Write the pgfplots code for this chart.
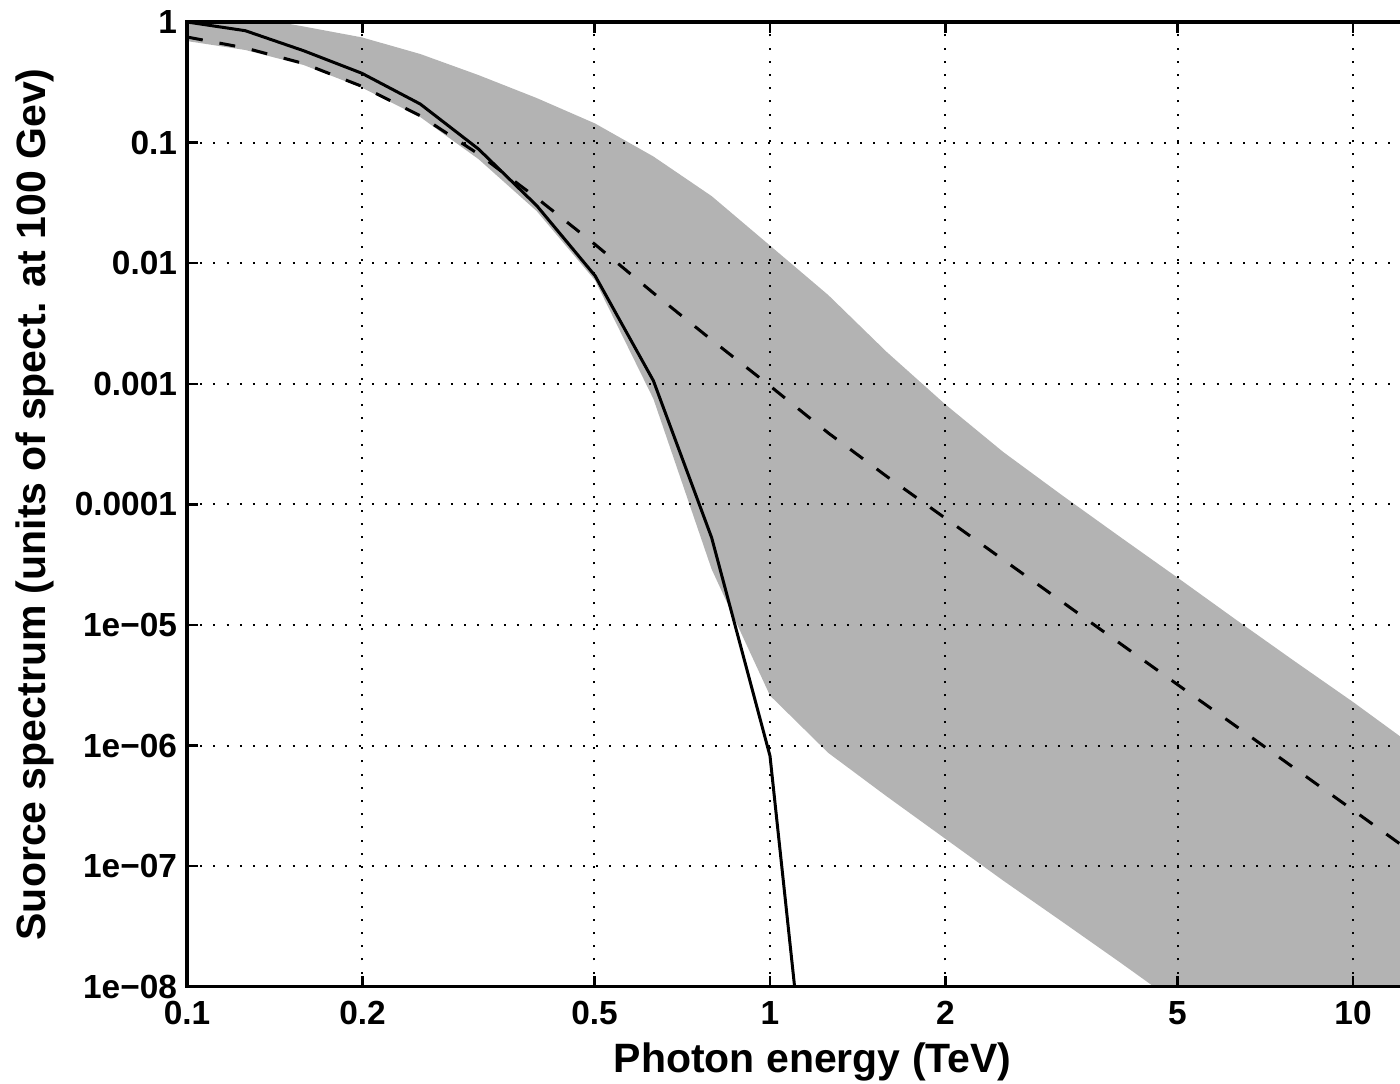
\documentclass[border=0pt]{standalone}
\usepackage{fontspec}
\setmainfont{Liberation Sans}
\usepackage{pgfplots}
\usepackage{pgfplotstable}
\pgfplotsset{compat=1.18}
\definecolor{bandgray}{RGB}{179,179,179}

\pgfplotstableread{
x y
0.1 1.0
0.1259 0.847
0.1585 0.578
0.1995 0.376
0.2512 0.209
0.3162 0.0885
0.3981 0.030
0.5012 0.00787
0.6310 0.00106
0.7943 5.3e-5
1.0 8.2e-7
1.2589 2.4e-11
}\solidtab

\pgfplotstableread{
x y
0.1 0.751
0.1259 0.609
0.1585 0.453
0.1995 0.293
0.2512 0.167
0.3162 0.0804
0.3981 0.0347
0.5012 0.0143
0.6310 0.00566
0.7943 0.00231
1.0 9.6e-4
1.2589 3.91e-4
1.5849 1.71e-4
1.9953 7.73e-5
2.5119 3.48e-5
3.1623 1.57e-5
3.9811 7.06e-6
5.0119 3.18e-6
6.3096 1.44e-6
7.9433 6.47e-7
10.0 2.92e-7
12.589 1.31e-7
15.849 5.9e-8
}\dashtab

\pgfplotstableread{
x y
0.1 1.3
0.1259 1.12
0.1585 0.918
0.1995 0.746
0.2512 0.543
0.3162 0.363
0.3981 0.234
0.5012 0.144
0.6310 0.0767
0.7943 0.036
1.0 0.014
1.2589 0.00544
1.5849 1.84e-3
1.9953 6.8e-4
2.5119 2.72e-4
3.1623 1.2e-4
3.9811 5.4e-5
5.0119 2.45e-5
6.3096 1.1e-5
7.9433 5.0e-6
10.0 2.3e-6
12.589 1.02e-6
15.849 4.6e-7
15.849 1.2e-10
12.589 2.7e-10
10.0 6.1e-10
7.9433 1.38e-9
6.3096 3.1e-9
5.0119 7.2e-9
3.9811 1.6e-8
3.1623 3.5e-8
2.5119 7.6e-8
1.9953 1.7e-7
1.5849 3.8e-7
1.2589 8.7e-7
1.0 2.6e-6
0.7943 2.9e-5
0.6310 7.5e-4
0.5012 7.2e-3
0.3981 0.027
0.3162 0.073
0.2512 0.163
0.1995 0.286
0.1585 0.44
0.1259 0.586
0.1 0.695
}\bandtab

\begin{document}
\begin{tikzpicture}
\begin{axis}[
  scale only axis,
  width=625.6bp, height=482.4bp,
  xmode=log, ymode=log,
  xmin=0.1, xmax=14,
  ymin=1e-8, ymax=1,
  xtick={0.1,0.2,0.5,1,2,5,10},
  xticklabels={0.1,0.2,0.5,1,2,5,10},
  ytick={1e-8,1e-7,1e-6,1e-5,1e-4,1e-3,1e-2,1e-1,1},
  yticklabels={1e\textminus08,1e\textminus07,1e\textminus06,1e\textminus05,0.0001,0.001,0.01,0.1,1},
  xminorticks=false, yminorticks=false,
  tick align=inside,
  major tick length=5.5bp,
  major tick style={line width=1.2bp, black},
  axis line style={line width=1.6bp, black},
  grid=major,
  major grid style={line width=1bp, dash pattern=on 1bp off 5.6bp, black},
  axis on top,
  tick label style={font=\fontsize{16.7bp}{20bp}\selectfont\bfseries},
  xticklabel style={yshift=-3.8bp},
  yticklabel style={xshift=-1.5bp},
  xlabel={Photon energy (TeV)},
  ylabel={Suorce spectrum (units of spect. at 100 Gev)},
  label style={font=\fontsize{20.5bp}{24bp}\selectfont\bfseries},
  xlabel style={at={(axis description cs:0.5,-0.0891)}, anchor=base},
  ylabel style={at={(axis description cs:-0.1127,0.5)}, anchor=base},
]
\addplot[fill=bandgray, draw=none] table {\bandtab};
\addplot[black, line width=1.5bp, dash pattern=on 8bp off 8.5bp] table {\dashtab};
\addplot[black, line width=1.5bp] table {\solidtab};
\end{axis}
\pgfresetboundingbox
\path[use as bounding box] ([xshift=-93.5bp,yshift=-48.5bp]current axis.south west) rectangle ([xshift=606.5bp,yshift=11bp]current axis.north west);
\end{tikzpicture}
\end{document}
